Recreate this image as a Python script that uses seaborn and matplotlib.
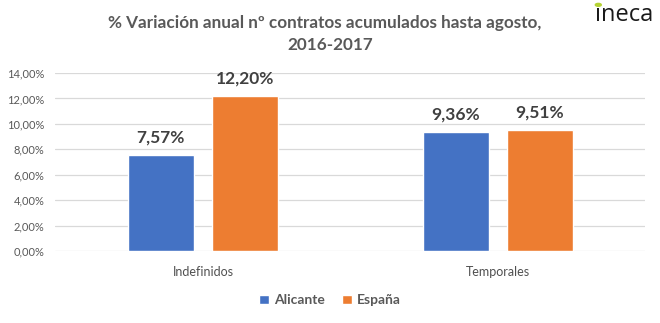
import matplotlib
matplotlib.use("Agg")
import matplotlib.pyplot as plt
import seaborn as sns
import pandas as pd
from matplotlib.ticker import FuncFormatter

categories = ["Indefinidos", "Temporales"]
series = ["Alicante", "España"]
alicante = [7.57, 9.36]
espana = [12.20, 9.51]
yticks = [0, 2, 4, 6, 8, 10, 12, 14]

df = pd.DataFrame({
    "cat": categories * 2,
    "serie": [series[0]] * 2 + [series[1]] * 2,
    "val": alicante + espana,
})

sns.set_theme(style="white")
plt.rcParams["font.family"] = ["Lato", "DejaVu Sans"]

gray = "#595959"
fig = plt.figure(figsize=(6.6, 3.23), dpi=100)
ax = fig.add_axes([0.084, 0.223, 0.894, 0.551])

sns.barplot(data=df, x="cat", y="val", hue="serie", order=categories,
            hue_order=series, palette=["#4472C4", "#ED7D31"],
            width=0.57, gap=0.214, ax=ax, legend=True, saturation=1)

ax.set_xlim(-0.5, 1.5)
ax.set_ylim(0, 14)
ax.set_yticks(yticks)
ax.yaxis.set_major_formatter(FuncFormatter(lambda v, p: f"{v:.2f}%".replace(".", ",")))
ax.grid(axis="y", color="#D9D9D9", linewidth=0.9)
ax.set_axisbelow(True)
for s in ax.spines.values():
    s.set_visible(False)
ax.tick_params(axis="y", length=0, pad=8, labelsize=8, labelcolor=gray)
ax.tick_params(axis="x", length=0, pad=11, labelsize=9, labelcolor="#505050")
ax.set_xlabel("")
ax.set_ylabel("")

for cont in ax.containers:
    labels = [f"{b.get_height():.2f}%".replace(".", ",") for b in cont]
    ax.bar_label(cont, labels=labels, padding=7, fontsize=12.5,
                 fontweight="bold", color="#404040")

handles, labs = ax.get_legend_handles_labels()
ax.legend(handles, labs, loc="center", bbox_to_anchor=(0.5, 0.07),
          bbox_transform=fig.transFigure, ncol=2, frameon=False,
          prop={"weight": "bold", "size": 10}, labelcolor=gray,
          handlelength=0.7, handleheight=0.7, handletextpad=0.4,
          columnspacing=1.2)

fig.text(0.492, 0.93, "% Variación anual nº contratos acumulados hasta agosto,",
         ha="center", va="center", fontsize=12.3, fontweight="bold", color=gray)
fig.text(0.5, 0.86, "2016-2017", ha="center", va="center", fontsize=12.3,
         fontweight="bold", color=gray)

fig.text(0.902, 0.955, "\u0131neca", ha="left", va="center", fontsize=17,
         color="#1a1a1a", family="Open Sans")
fig.patches.append(plt.Circle((0.9065, 0.985), 0.0045, transform=fig.transFigure,
                              color="#B5D334", figure=fig))

fig.savefig("out.png", dpi=100, facecolor="white")
